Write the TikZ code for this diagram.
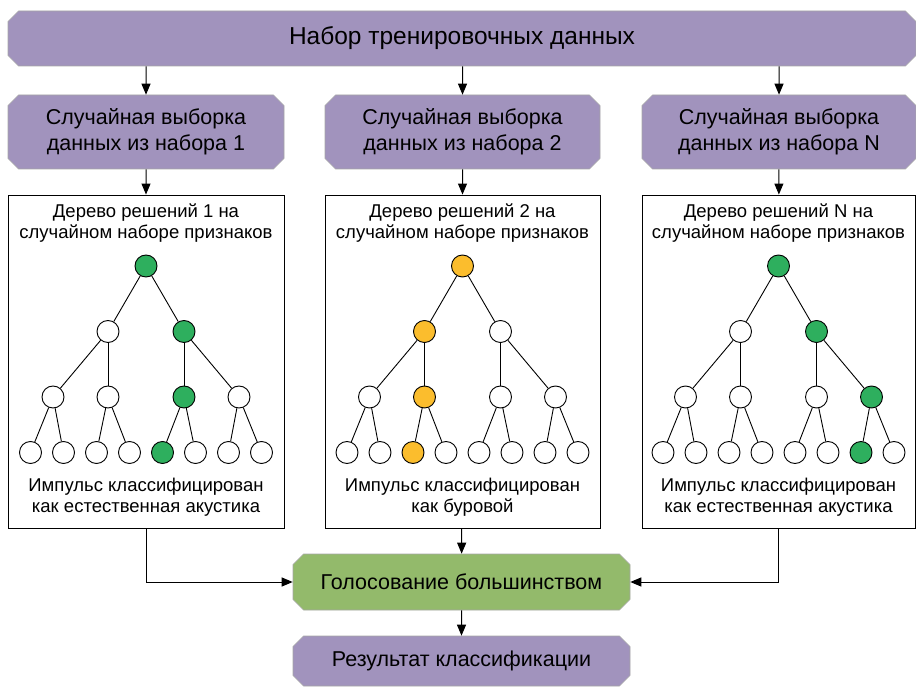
\documentclass[tikz,border=0pt]{standalone}
\usepackage{fontspec}
\setmainfont{Liberation Sans}
\usetikzlibrary{shapes.misc,arrows.meta,positioning}
\definecolor{boxpurple}{HTML}{A193BD}
\definecolor{boxgreen}{HTML}{93BA6B}
\definecolor{nodegreen}{HTML}{2EAF5E}
\definecolor{nodeorange}{HTML}{FBBD2D}
\tikzset{
  databox/.style={chamfered rectangle, chamfered rectangle xsep=7pt, draw=gray!70, line width=0.6pt,
    fill=boxpurple, inner sep=0pt, align=center, font=\fontsize{21.5}{26}\selectfont},
  votebox/.style={databox, fill=boxgreen},
  treebox/.style={draw=black, line width=0.9pt, fill=white, minimum height=333pt},
  treetxt/.style={font=\fontsize{18.5}{21}\selectfont, align=center},
  leaf/.style={circle, draw=black, line width=0.9pt, fill=white, minimum size=22pt, inner sep=0pt},
  edge/.style={draw=black, line width=0.9pt},
  arr/.style={-{Triangle[length=11pt,width=9pt]}, line width=1pt}
}
\begin{document}
\begin{tikzpicture}[x=1pt,y=-1pt]
  \useasboundingbox (0,0) rectangle (916,687);

  % training set
  \node[databox, minimum width=908pt, minimum height=55pt, font=\fontsize{24.5}{26}\selectfont]
    (train) at (462,38.5) {Набор тренировочных данных};

  % random samples
  \node[databox, minimum width=276pt, minimum height=74pt] (s1) at (146,132) {Случайная выборка\\данных из набора 1};
  \node[databox, minimum width=275pt, minimum height=74pt] (s2) at (462.5,132) {Случайная выборка\\данных из набора 2};
  \node[databox, minimum width=274pt, minimum height=74pt] (s3) at (779,132) {Случайная выборка\\данных из набора N};

  % decision trees
  \node[treebox, minimum width=276pt] (tree1) at (146,361.5) {};
  \node[treebox, minimum width=275pt] (tree2) at (462.5,361.5) {};
  \node[treebox, minimum width=273pt] (tree3) at (778.5,361.5) {};

  \node[treetxt] (t1h) at (146,223) {Дерево решений 1 на\\случайном наборе признаков};
  \node[treetxt] (t2h) at (462.5,223) {Дерево решений 2 на\\случайном наборе признаков};
  \node[treetxt] (t3h) at (778.5,223) {Дерево решений N на\\случайном наборе признаков};
  \node[treetxt] (t1f) at (146,497) {Импульс классифицирован\\как естественная акустика};
  \node[treetxt] (t2f) at (462.5,497) {Импульс классифицирован\\как буровой};
  \node[treetxt] (t3f) at (778.5,497) {Импульс классифицирован\\как естественная акустика};

  \foreach \t/\cx/\hc/\a/\b/\c in {1/146/nodegreen/2/3/5, 2/462.5/nodeorange/1/2/3, 3/778.5/nodegreen/2/4/7} {
    \node[leaf, fill=\hc] (\t-r) at (\cx,266) {};
    \foreach \k/\dx in {1/-38,2/38} {
      \ifnum\k=\a \def\fc{\hc}\else\def\fc{white}\fi
      \node[leaf, fill=\fc] (\t-a\k) at (\cx+\dx,331.5) {};
      \draw[edge] (\t-r) -- (\t-a\k);
    }
    \foreach \k/\dx in {1/-93,2/-38,3/38,4/93} {
      \ifnum\k=\b \def\fc{\hc}\else\def\fc{white}\fi
      \pgfmathtruncatemacro\p{(\k+1)/2}
      \node[leaf, fill=\fc] (\t-b\k) at (\cx+\dx,397) {};
      \draw[edge] (\t-a\p) -- (\t-b\k);
    }
    \foreach \k/\dx in {1/-115.5,2/-82.5,3/-49.5,4/-16.5,5/16.5,6/49.5,7/82.5,8/115.5} {
      \ifnum\k=\c \def\fc{\hc}\else\def\fc{white}\fi
      \pgfmathtruncatemacro\p{(\k+1)/2}
      \node[leaf, fill=\fc] (\t-c\k) at (\cx+\dx,452.5) {};
      \draw[edge] (\t-b\p) -- (\t-c\k);
    }
  }

  % voting and result
  \node[votebox, minimum width=337pt, minimum height=56pt] (vote) at (461.5,582) {Голосование большинством};
  \node[databox, minimum width=337pt, minimum height=50pt] (result) at (461.5,661) {Результат классификации};

  % arrows
  \draw[arr] (train.south -| s1) -- (s1);
  \draw[arr] (train.south -| s2) -- (s2);
  \draw[arr] (train.south -| s3) -- (s3);
  \draw[arr] (s1) -- (tree1);
  \draw[arr] (s2) -- (tree2);
  \draw[arr] (s3) -- (tree3);
  \draw[arr] (tree1.south) |- (vote.west);
  \draw[arr] (tree2) -- (vote);
  \draw[arr] (tree3.south) |- (vote.east);
  \draw[arr] (vote) -- (result);
\end{tikzpicture}
\end{document}
